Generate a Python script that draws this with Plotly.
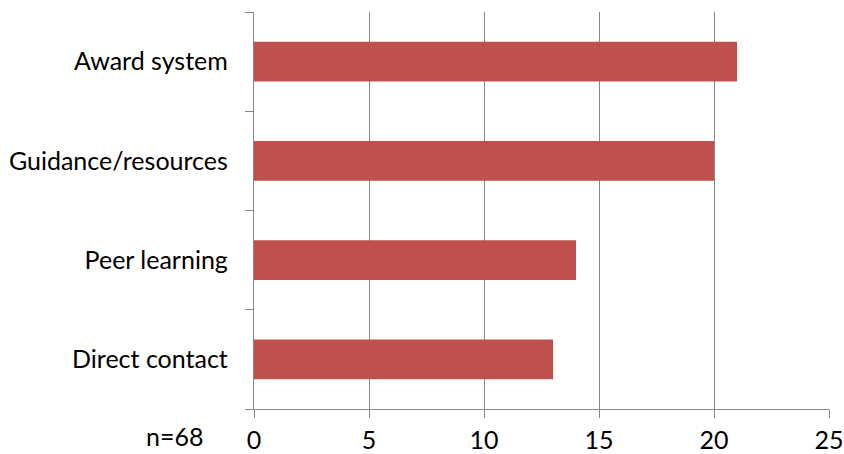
import plotly.graph_objects as go

categories = ["Direct contact", "Peer learning", "Guidance/resources", "Award system"]
values = [13, 14, 20, 21]
x_ticks = [0, 5, 10, 15, 20, 25]
note = "n=68"

grid = "#868686"
font = dict(family="Lato, Open Sans, sans-serif", size=25, color="#000000")

fig = go.Figure(go.Bar(
    x=values, y=categories, orientation="h",
    marker=dict(color="#C0504D", line=dict(width=0)),
    width=0.4,
))

fig.update_layout(
    width=844, height=454,
    margin=dict(l=254, r=15, t=12, b=45, autoexpand=False),
    paper_bgcolor="white", plot_bgcolor="white",
    font=font,
    showlegend=False,
    xaxis=dict(
        range=[0, 25], tickvals=x_ticks, ticktext=[str(v) for v in x_ticks],
        showgrid=True, gridcolor=grid, gridwidth=1.3,
        showline=True, linecolor=grid, linewidth=1.3,
        ticks="outside", ticklen=8, tickcolor=grid, tickwidth=1.3,
        zeroline=False, ticklabelstandoff=1, automargin=False,
    ),
    yaxis=dict(
        type="category", range=[-0.5, 3.5],
        showgrid=False,
        showline=True, linecolor=grid, linewidth=1.3,
        ticks="outside", ticklen=8, tickcolor=grid, tickwidth=1.3,
        tickson="boundaries", ticklabelstandoff=20, automargin=False,
    ),
    annotations=[dict(
        text=note, xref="paper", yref="paper", x=-0.138, y=-0.068,
        xanchor="center", yanchor="middle", showarrow=False,
        font=font,
    )],
)

fig.write_html("out.html")
